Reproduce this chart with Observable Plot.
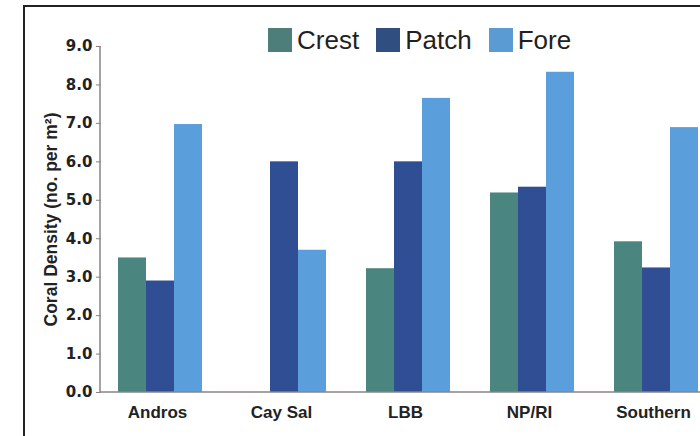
<!DOCTYPE html>
<html>
<head>
<meta charset="utf-8">
<script src="https://cdn.jsdelivr.net/npm/d3@7"></script>
<script src="https://cdn.jsdelivr.net/npm/@observablehq/plot@0.6"></script>
<style>
  html, body { margin: 0; padding: 0; background: #fff; }
  #wrap { position: relative; width: 700px; height: 436px; overflow: hidden; background: #fff; }
  #frame { position: absolute; left: 23px; top: 5px; width: 720px; height: 480px;
           border-top: 2px solid #222; border-left: 2px solid #222; box-sizing: border-box; }
  #chart { position: absolute; left: 0; top: 0; width: 716px; }
  #chart svg { max-width: none !important; width: 716px; height: 436px; }
  #legend { position: absolute; left: 268px; top: 28px; display: flex; align-items: center;
            font-family: "Liberation Sans", Arial, sans-serif; font-size: 26px; color: #231f20; line-height: 24px; }
  #legend .item { display: flex; align-items: center; margin-right: 17px; }
  #legend .sw { width: 24px; height: 24px; margin-right: 5px; }
</style>
</head>
<body>
<div id="wrap">
  <div id="chart"></div>
  <div id="frame"></div>
  <div id="legend"></div>
</div>
<script>
const sites = ["Andros", "Cay Sal", "LBB", "NP/RI", "Southern"];
const types = ["Crest", "Patch", "Fore"];
const crest = [3.50, null, 3.22, 5.19, 3.92];
const patch = [2.90, 6.00, 6.00, 5.34, 3.24];
const fore  = [6.97, 3.70, 7.65, 8.33, 6.89];
const yTicks = [0, 1, 2, 3, 4, 5, 6, 7, 8, 9];
const yLabel = "Coral Density (no. per m²)";

const barColors = ["#4a8580", "#2f4e93", "#5a9fdc"];
const legendColors = ["#4e7e79", "#304f80", "#5b9bd3"];

const series = [crest, patch, fore];
const data = [];
sites.forEach((s, i) => {
  types.forEach((t, j) => {
    const v = series[j][i];
    if (v != null) data.push({site: s, type: t, value: v});
  });
});

const W = 716, ML = 100;
const padOuter = 0.137, padInner = 0.325;
// offset of the first facet from the left margin (band-scale geometry)
const step = (W - ML) / (sites.length - padInner + 2 * padOuter);
const facetOffset = padOuter * step;

const plot = Plot.plot({
  width: W,
  height: 436,
  marginLeft: ML,
  marginRight: 0,
  marginTop: 46,
  marginBottom: 44,
  style: {background: "transparent", color: "#222", maxWidth: "none",
          fontFamily: "'Liberation Sans', Arial, sans-serif"},
  fx: {domain: sites, paddingInner: padInner, paddingOuter: padOuter, label: null},
  x: {domain: types, padding: 0, axis: null},
  y: {domain: [0, 9]},
  color: {domain: types, range: barColors},
  marks: [
    Plot.barY(data, {fx: "site", x: "type", y: "value", fill: "type"}),
    Plot.axisFx({anchor: "bottom", tickSize: 0, tickPadding: 13, dx: -3, fontSize: 17, fontWeight: "bold", label: null}),
    Plot.axisY({ticks: yTicks, tickFormat: d => d.toFixed(1), tickSize: 5, tickPadding: 4, dx: -facetOffset,
      fontSize: 15, fontWeight: "bold", fontFamily: "'DejaVu Sans', sans-serif", stroke: "#8c8080",
      label: yLabel, labelAnchor: "center", labelOffset: 57 + facetOffset, labelArrow: false})
  ]
});

document.getElementById("chart").appendChild(plot);

// continuous baseline and y axis line via the plot's own y scale
const ys = plot.scale("y");
const svg = d3.select(plot);
const y0 = ys.apply(0), y9 = ys.apply(9);
svg.append("line").attr("x1", ML).attr("x2", W).attr("y1", y0).attr("y2", y0)
  .attr("stroke", "#8a8585").attr("stroke-width", 1.5);
svg.append("line").attr("x1", ML).attr("x2", ML).attr("y1", y9).attr("y2", y0)
  .attr("stroke", "#8c8080").attr("stroke-width", 1.5);

// y label font
svg.selectAll('g[aria-label="y-axis label"] text')
  .attr("font-family", "'Liberation Sans', Arial, sans-serif")
  .attr("font-size", 17.5).attr("font-weight", "bold");

// legend
const legend = d3.select("#legend");
types.forEach((t, i) => {
  const item = legend.append("div").attr("class", "item");
  item.append("div").attr("class", "sw").style("background", legendColors[i]);
  item.append("span").text(t);
});
</script>
</body>
</html>
